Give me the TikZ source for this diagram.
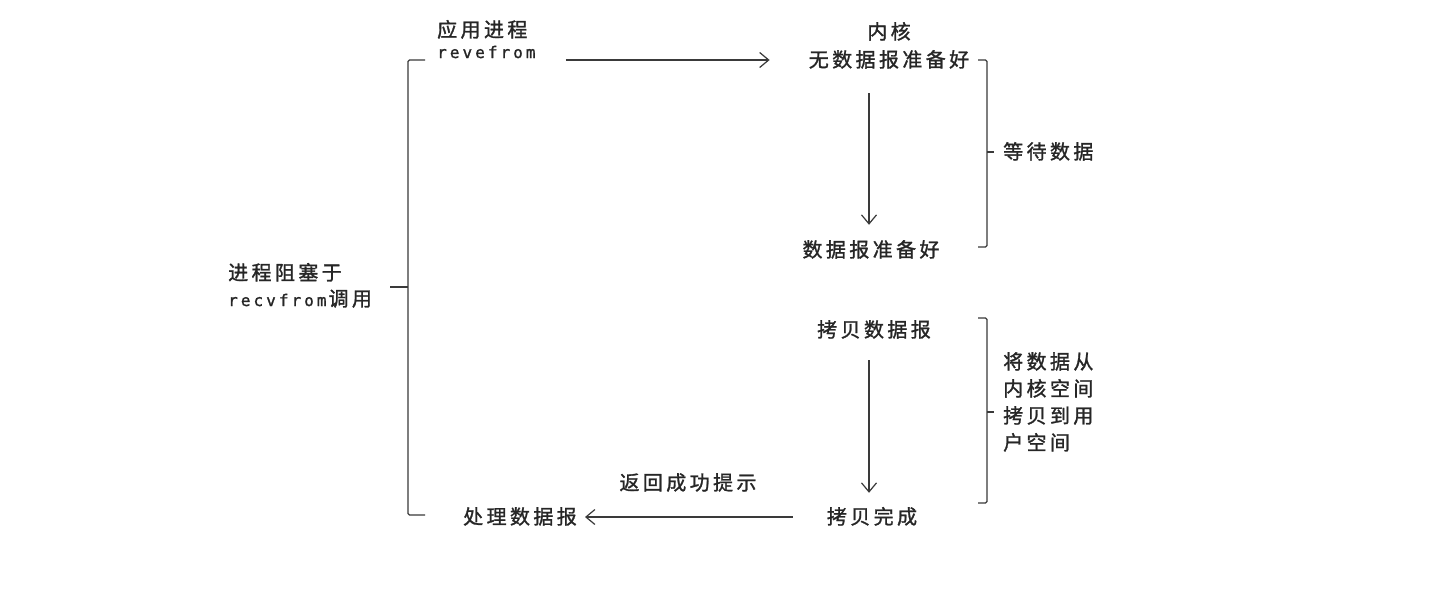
\documentclass[tikz,border=0pt]{standalone}
\usepackage{fontspec}
\usetikzlibrary{arrows.meta}
\newfontfamily\cjkf[LetterSpace=17,FakeBold=1.3]{Noto Sans CJK SC}
\newfontfamily\monof[LetterSpace=19,FakeBold=1.3]{DejaVu Sans Mono}
\definecolor{ink}{HTML}{262626}
\definecolor{linec}{HTML}{3A3A3A}
\tikzset{
  lbl/.style={inner sep=0pt, text=ink, font=\cjkf\fontsize{20}{22}\selectfont, text height=18pt, text depth=4pt},
  mlbl/.style={inner sep=0pt, text=ink, font=\monof\fontsize{16}{20}\selectfont, text height=13pt, text depth=3pt},
  arr/.style={draw=linec, line width=1.2pt, -{Straight Barb[length=9pt,width=15pt,line width=1.2pt]}},
  brk/.style={draw=linec, line width=1.2pt, rounded corners=1.5pt}
}
\begin{document}
\begin{tikzpicture}[x=1pt,y=-1pt]
\useasboundingbox[fill=white] (0,0) rectangle (1453,589);
% left labels
\node[lbl, anchor=west] (blk1) at (228,273) {进程阻塞于};
\node[mlbl, anchor=west] (blk2) at (228,301) {recvfrom\hspace{2pt}{\cjkf\fontsize{20}{22}\selectfont 调用}};
% application process
\node[lbl, anchor=west] (app) at (437,30) {应用进程};
\node[mlbl, anchor=west] (rev) at (437,53) {revefrom};
% kernel
\node[lbl] (kern) at (889,32) {内核};
\node[lbl] (k1) at (889,60) {无数据报准备好};
\node[lbl] (k2) at (871,250) {数据报准备好};
\node[lbl] (c1) at (874,330) {拷贝数据报};
\node[lbl] (c2) at (872,517) {拷贝完成};
\node[lbl] (proc) at (520,517) {处理数据报};
\node[lbl] (ret) at (688,483) {返回成功提示};
\node[lbl, anchor=west] (wait) at (1003,152) {等待数据};
\node[lbl, anchor=west] (copy1) at (1003,362) {将数据从};
\node[lbl, anchor=west] (copy2) at (1003,389) {内核空间};
\node[lbl, anchor=west] (copy3) at (1003,416) {拷贝到用};
\node[lbl, anchor=west] (copy4) at (1003,443) {户空间};
% arrows
\draw[arr, shorten <=30pt, shorten >=39pt] (rev.east |- k1.west) -- (k1.west);
\draw[arr, shorten <=22pt, shorten >=14pt] (k1.south -| 869,0) -- (k2.north -| 869,0);
\draw[arr, shorten <=19pt, shorten >=13pt] (c1.south -| 869,0) -- (c2.north -| 869,0);
\draw[arr, shorten <=34pt, shorten >=8pt] (c2.west) -- (proc.east);
% left bracket
\draw[brk] (425,60) -- (408,60) -- (408,515) -- (425,515);
\draw[brk] (390,287) -- (408,287);
% right brackets
\draw[brk] (978,60) -- (987,60) -- (987,247) -- (978,247);
\draw[brk] (987,152) -- (994,152);
\draw[brk] (978,318) -- (987,318) -- (987,503) -- (978,503);
\draw[brk] (987,412) -- (994,412);
\end{tikzpicture}
\end{document}
